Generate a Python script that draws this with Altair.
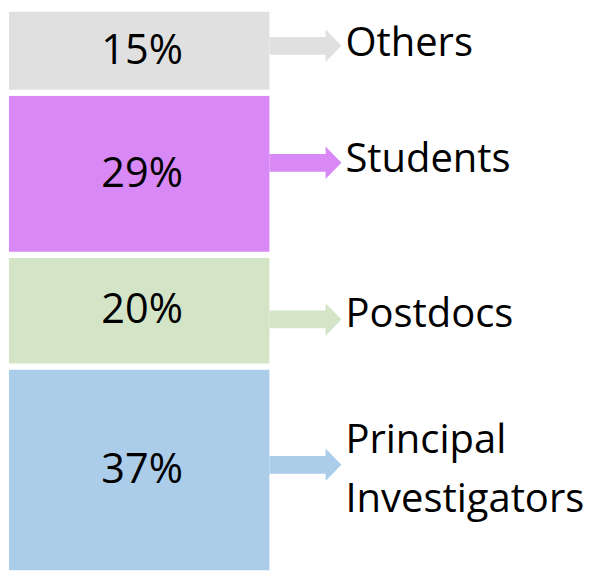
import altair as alt
import pandas as pd

# ---- data (bottom to top of the stack) ----
categories = ["Principal Investigators", "Postdocs", "Students", "Others"]
label_lines = ["Principal\nInvestigators", "Postdocs", "Students", "Others"]
shares = [37, 20, 29, 15]

# ---- styling ----
colors = ["#abcdea", "#d3e5c6", "#d889f6", "#e0e0e0"]
arrow_nudge_px = [-5, 9, -11, -5]      # + = down
label_nudge_px = [-29, 5, -14, -7]     # + = down

PLOT_H = 566
RANGE_TOP, RANGE_BOTTOM = -3, PLOT_H + 3
total = int(sum(shares))
px_per_unit = (RANGE_BOTTOM - RANGE_TOP) / total

df = pd.DataFrame({
    "category": categories,
    "label": label_lines,
    "share": shares,
})
df["end"] = df["share"].cumsum()
df["start"] = df["end"] - df["share"]
df["mid"] = (df["start"] + df["end"]) / 2
df["arrow_y"] = df["mid"] - pd.Series(arrow_nudge_px) / px_per_unit
df["label_y"] = df["mid"] - pd.Series(label_nudge_px) / px_per_unit
df["pct"] = df["share"].astype(str) + "%"

yscale = alt.Scale(domain=[0, total], range=[RANGE_BOTTOM, RANGE_TOP], nice=False, zero=False)
cscale = alt.Scale(domain=categories, range=colors)

base = alt.Chart(df)

bars = base.mark_bar(stroke="white", strokeWidth=6).encode(
    x=alt.value(-2),
    x2=alt.value(268),
    y=alt.Y("start:Q", scale=yscale, axis=None),
    y2="end:Q",
    color=alt.Color("category:N", scale=cscale, legend=None),
)

pcts = base.mark_text(
    font="Open Sans", fontSize=42, color="black", align="center", baseline="middle"
).encode(
    x=alt.value(136),
    y=alt.Y("mid:Q", scale=yscale, axis=None),
    text="pct:N",
)

arrow_path = "M-1,-0.247 L0.56,-0.247 L0.56,-0.452 L1,0 L0.56,0.452 L0.56,0.247 L-1,0.247 Z"
arrows = base.mark_point(
    shape=arrow_path, filled=True, size=5329, opacity=1, strokeWidth=0
).encode(
    x=alt.value(301.5),
    y=alt.Y("arrow_y:Q", scale=yscale, axis=None),
    color=alt.Color("category:N", scale=cscale, legend=None),
)

labels = base.mark_text(
    font="Open Sans", fontSize=40.5, color="black", align="left", baseline="middle",
    lineBreak="\n", lineHeight=60,
).encode(
    x=alt.value(342),
    y=alt.Y("label_y:Q", scale=yscale, axis=None),
    text="label:N",
)

chart = alt.layer(bars, arrows, pcts, labels).properties(
    width=592, height=PLOT_H, padding=0, autosize=alt.AutoSizeParams(type="none"),
    background="white",
).configure_view(stroke=None)

chart.save("out.html", embed_options={"renderer": "svg", "actions": False})
